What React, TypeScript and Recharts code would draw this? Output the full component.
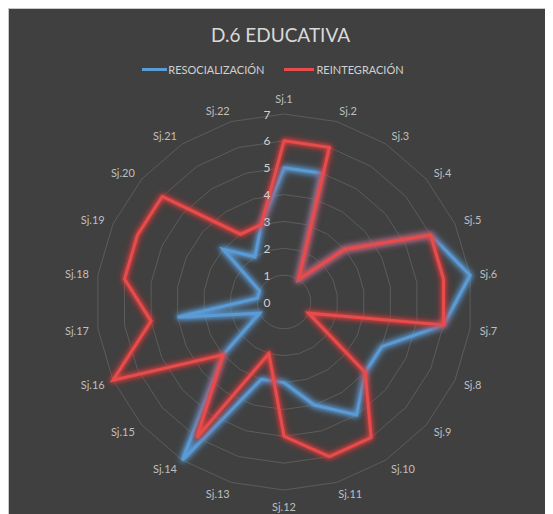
import React from "react";
import { RadarChart, Radar, PolarGrid, PolarAngleAxis, PolarRadiusAxis, Legend } from "recharts";

const categories = ["Sj.1","Sj.2","Sj.3","Sj.4","Sj.5","Sj.6","Sj.7","Sj.8","Sj.9","Sj.10","Sj.11","Sj.12","Sj.13","Sj.14","Sj.15","Sj.16","Sj.17","Sj.18","Sj.19","Sj.20","Sj.21","Sj.22"];
const resocializacion = [5,5,1,3,6,7,6,4,4,5,4,3,3,7,3,1,4,1,1,3,2,3];
const reintegracion = [6,6,1,3,6,6,6,1,4,6,6,5,2,6,3,7,5,6,6,6,3,3];
const radiusTicks = [0,1,2,3,4,5,6,7];

const data = categories.map((c, i) => ({ name: c, resocializacion: resocializacion[i], reintegracion: reintegracion[i] }));

const W = 543;
const H = 506;
const CX = 275;
const CY = 293;
const R = 188;
const BLUE = "#5b9bd5";
const RED = "#e84b4b";
const FONT = "Lato, 'Open Sans', sans-serif";

const AngleTick = (props: any) => {
  const { x, y, payload } = props;
  const dx = x - CX;
  const dy = y - CY;
  const d = Math.sqrt(dx * dx + dy * dy) || 1;
  const s = dx / d;
  const c = -dy / d;
  const label = String(payload.value);
  const a = label.length * 2.6;
  const b = 6;
  const clamp = Math.max(-1, Math.min(1, 3 * s));
  const px = CX + (R + 8) * s + a * clamp;
  const py = CY - (R + 4) * c - b * c - 6 * Math.sign(c) * Math.pow(Math.abs(c), 40);
  return (
    <text x={px} y={py} textAnchor="middle" dominantBaseline="central" fill="#bfbfbf" fontSize={11} fontFamily={FONT}>
      {label}
    </text>
  );
};

const RadiusTick = (props: any) => {
  const { x, y, payload } = props;
  return (
    <text x={x - 17} y={y} textAnchor="middle" dominantBaseline="central" fill="#d0d0d0" fontSize={12} fontFamily={FONT}>
      {payload.value}
    </text>
  );
};

const LegendContent = () => (
  <div style={{ display: "flex", justifyContent: "center", alignItems: "center", fontFamily: FONT, fontSize: 11, color: "#d0d0d0", paddingRight: 15 }}>
    <span style={{ display: "inline-block", width: 25, height: 3, background: BLUE, marginRight: 1 }} />
    <span>RESOCIALIZACIÓN</span>
    <span style={{ display: "inline-block", width: 30, height: 3, background: RED, marginLeft: 20, marginRight: 2 }} />
    <span>REINTEGRACIÓN</span>
  </div>
);

export default function App() {
  return (
    <div style={{ position: "relative", width: W, height: H, background: "#404040", borderTop: "1px solid #c8c8c8", borderLeft: "1px solid #c8c8c8", boxSizing: "border-box" }}>
      <style>{`
        .glow-blue path { filter: drop-shadow(0 0 2px ${BLUE}) drop-shadow(0 0 3px ${BLUE}); }
        .glow-red path { filter: drop-shadow(0 0 2px ${RED}) drop-shadow(0 0 3px #c03030); }
      `}</style>
      <div style={{ position: "absolute", left: 0, width: W, top: 14, textAlign: "center", fontFamily: FONT, fontSize: 19, color: "#d9d9d9", lineHeight: "24px" }}>
        D.6 EDUCATIVA
      </div>
      <div style={{ position: "absolute", left: 0, top: 0 }}>
        <RadarChart width={W} height={H} data={data} cx={CX} cy={CY} outerRadius={R} startAngle={90} endAngle={-270}>
          <PolarGrid gridType="polygon" radialLines={false} stroke="#5c5c5c" strokeWidth={1} />
          <PolarAngleAxis dataKey="name" tick={<AngleTick />} tickLine={false} axisLine={false} />
          <PolarRadiusAxis angle={90} domain={[0, 7]} ticks={radiusTicks as any} tickCount={8} tick={<RadiusTick />} axisLine={false} tickLine={false} />
          <Radar className="glow-blue" name="RESOCIALIZACIÓN" dataKey="resocializacion" stroke={BLUE} strokeWidth={3} fill="none" fillOpacity={0} dot={false} isAnimationActive={false} strokeLinejoin="miter" />
          <Radar className="glow-red" name="REINTEGRACIÓN" dataKey="reintegracion" stroke={RED} strokeWidth={3} fill="none" fillOpacity={0} dot={false} isAnimationActive={false} strokeLinejoin="miter" />
          <Legend verticalAlign="top" wrapperStyle={{ top: 54, left: 0, width: W }} content={<LegendContent />} />
        </RadarChart>
      </div>
    </div>
  );
}
